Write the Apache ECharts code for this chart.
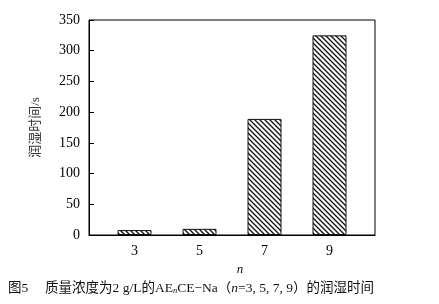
<!DOCTYPE html>
<html>
<head>
<meta charset="utf-8">
<script src="https://cdn.jsdelivr.net/npm/echarts@6/dist/echarts.min.js"></script>
<style>
html,body{margin:0;padding:0;background:#fff;}
#c{width:439px;height:304px;}
</style>
</head>
<body>
<div id="c"></div>
<script>
const categories = [3, 5, 7, 9];
const wettingTime = [8, 10, 189, 325];
const yTicks = [0, 50, 100, 150, 200, 250, 300, 350];

function hatch() {
  const s = 5;
  const c = document.createElement('canvas');
  c.width = s; c.height = s;
  const g = c.getContext('2d');
  g.fillStyle = '#fff';
  g.fillRect(0, 0, s, s);
  g.strokeStyle = '#111';
  g.lineWidth = 1.3;
  g.beginPath();
  g.moveTo(-1, -1); g.lineTo(s + 1, s + 1);
  g.moveTo(-1, s - 1); g.lineTo(1, s + 1);
  g.moveTo(s - 1, -1); g.lineTo(s + 1, 1);
  g.stroke();
  return c;
}

const serif = '"Liberation Serif", "DejaVu Serif", serif';
const cjk = '"Liberation Serif", "Noto Sans CJK SC", serif';

const chart = echarts.init(document.getElementById('c'), null, {renderer: 'canvas'});
chart.setOption({
  animation: false,
  backgroundColor: '#fff',
  grid: {left: 89, top: 20, right: 64, bottom: 69, show: true, borderColor: '#000', borderWidth: 1, backgroundColor: 'transparent'},
  xAxis: {
    type: 'value', min: 1.6, max: 10.4,
    splitLine: {show: false},
    axisLine: {show: true, lineStyle: {color: '#000', width: 1}},
    axisTick: {show: false},
    axisLabel: {customValues: categories, color: '#000', fontFamily: serif, fontSize: 14, margin: 9},
    name: 'n', nameLocation: 'middle', nameGap: 26,
    nameTextStyle: {fontFamily: serif, fontStyle: 'italic', fontSize: 13, color: '#111', padding: [0, 0, 0, 16]}
  },
  yAxis: {
    type: 'value', min: yTicks[0], max: yTicks[yTicks.length - 1], interval: 50,
    splitLine: {show: false},
    axisLine: {show: true, lineStyle: {color: '#000', width: 1}},
    axisTick: {show: true, inside: true, length: 5, lineStyle: {color: '#000'}},
    axisLabel: {color: '#000', fontFamily: serif, fontSize: 14, margin: 9},
    name: '润湿时间/s', nameLocation: 'middle', nameGap: 47, nameRotate: 90,
    nameTextStyle: {fontFamily: cjk, fontSize: 13, color: '#333'}
  },
  series: [{
    type: 'bar',
    barWidth: 34,
    data: categories.map((c, i) => [c, wettingTime[i]]),
    itemStyle: {color: {image: hatch(), repeat: 'repeat'}, borderColor: '#111', borderWidth: 1}
  }],
  graphic: [{
    type: 'text', left: 8, top: 281,
    style: {
      text: '{a|图5　 质量浓度为2 g/L的AE}{s|n}{a|CE−Na（}{i|n}{a|=3, 5, 7, 9）的润湿时间}',
      rich: {
        a: {fontFamily: cjk, fontSize: 13.5, fill: '#111'},
        s: {fontFamily: serif, fontSize: 8.5, fontStyle: 'italic', fill: '#111', verticalAlign: 'bottom', padding: [6, 0, 0, 0]},
        i: {fontFamily: serif, fontSize: 13.5, fontStyle: 'italic', fill: '#111'}
      }
    }
  }]
});
</script>
</body>
</html>
